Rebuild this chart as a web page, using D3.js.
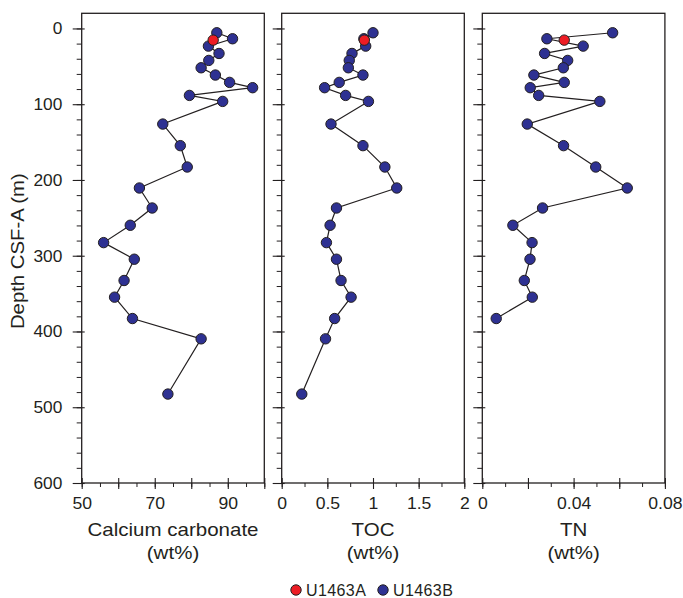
<!DOCTYPE html>
<html>
<head>
<meta charset="utf-8">
<script src="https://cdn.jsdelivr.net/npm/d3@7"></script>
<style>
  body { margin: 0; background: #fff; }
  svg text { font-family: "Liberation Sans", Arial, Helvetica, sans-serif; fill: #231f20; }
  .tick text { font-size: 16px; }
  .title { font-size: 18px; }
  .legend { font-size: 16px; letter-spacing: 0.4px; }
</style>
</head>
<body>
<div id="graf"></div>
<script>
// Site U1463B samples (depth in m CSF-A)
const depthB = [5.7, 13.6, 23.3, 33, 42.2, 51.9, 61.5, 71.2, 78.2, 88.4, 96.3, 126.2,
  154.7, 182.9, 210.6, 237, 259.8, 282.7, 304.6, 332.7, 354.7, 382.9, 409.7, 482.6]
const caco3B = [87.0, 91.3, 84.7, 87.6, 84.8, 82.7, 86.6, 90.5, 96.8, 79.5, 88.6, 72.2,
  77.0, 78.9, 65.8, 69.3, 63.3, 56.0, 64.4, 61.6, 59.0, 63.9, 82.7, 73.6]
const tocB = [1.0, 0.9, 0.92, 0.77, 0.74, 0.73, 0.89, 0.63, 0.47, 0.70, 0.95, 0.54,
  0.89, 1.13, 1.26, 0.60, 0.53, 0.49, 0.60, 0.65, 0.76, 0.58, 0.48, 0.22]
const tnB = [0.0571, 0.0283, 0.0442, 0.0273, 0.0374, 0.0355, 0.0226, 0.0359, 0.0210, 0.0247, 0.0515, 0.0197,
  0.0356, 0.0497, 0.0635, 0.0264, 0.0134, 0.0218, 0.0209, 0.0184, 0.0219, 0.0061, null, null]

// Site U1463A (single sample)
const depthA = [15.4]
const caco3A = [86.0]
const tocA = [0.905]
const tnA = [0.0359]

const depthTicks = [0, 100, 200, 300, 400, 500, 600]
const legendItems = ["U1463A", "U1463B"]

const ink = "#231f20"
const colorA = "#ed1c24"
const colorB = "#2e3192"

const W = 683, H = 598
const plot = { top: 13.3, bottom: 483, width: 182.6 }
const lefts = [81.7, 281.7, 482.3]

const svg = d3.select("#graf").append("svg").attr("width", W).attr("height", H)

const y = d3.scaleLinear().domain([-20, 600]).range([plot.top, plot.bottom])

const panels = [
  { b: caco3B, a: caco3A, domain: [50, 100], minor: d3.range(50, 101, 5), major: d3.range(50, 101, 10),
    labels: [50, 70, 90], title: "Calcium carbonate" },
  { b: tocB, a: tocA, domain: [0, 2], minor: d3.range(0, 9).map(i => i * 0.25), major: d3.range(0, 5).map(i => i * 0.5),
    labels: [0, 0.5, 1, 1.5, 2], title: "TOC" },
  { b: tnB, a: tnA, domain: [0, 0.08], minor: d3.range(0, 9).map(i => i * 0.01), major: d3.range(0, 5).map(i => i * 0.02),
    labels: [0, 0.04, 0.08], title: "TN" }
]

panels.forEach((p, i) => {
  const left = lefts[i]
  const x = d3.scaleLinear().domain(p.domain).range([left, left + plot.width])
  const g = svg.append("g")

  // x axis: minor, major (crossing), labels
  g.append("g")
    .attr("transform", `translate(0, ${plot.bottom})`)
    .style("color", ink)
    .call(d3.axisBottom(x).tickValues(p.minor).tickSize(4).tickFormat(""))
    .call(a => a.select(".domain").remove())
  g.append("g")
    .attr("transform", `translate(0, ${plot.bottom})`)
    .style("color", ink)
    .call(d3.axisBottom(x).tickValues(p.major).tickSize(6).tickFormat(""))
    .call(a => a.select(".domain").remove())
    .selectAll(".tick line").attr("y1", -5).attr("stroke-width", 1.1)
  g.append("g")
    .attr("transform", `translate(0, ${plot.bottom})`)
    .style("color", ink)
    .call(d3.axisBottom(x).tickValues(p.labels).tickSize(0).tickFormat(d3.format("")))
    .call(a => a.select(".domain").remove())
    .selectAll("text").attr("y", 26.5).attr("dy", null).attr("transform", "scale(1.1,1)")

  // y axis ticks on each panel
  g.append("g")
    .attr("transform", `translate(${left}, 0)`)
    .style("color", ink)
    .call(d3.axisLeft(y).tickValues(d3.range(0, 601, 20)).tickSize(5).tickFormat(""))
    .call(a => a.select(".domain").remove())
  const ym = g.append("g")
    .attr("transform", `translate(${left}, 0)`)
    .style("color", ink)
    .call(d3.axisLeft(y).tickValues(depthTicks).tickSize(9).tickFormat(i === 0 ? d3.format("") : ""))
    .call(a => a.select(".domain").remove())
  ym.selectAll(".tick line").attr("x1", 3).attr("stroke-width", 1.1)
  ym.selectAll("text").attr("x", -18).attr("dy", "0.34em").attr("transform", "scale(1.08,1)")

  // frame
  g.append("rect")
    .attr("x", left).attr("y", plot.top)
    .attr("width", plot.width).attr("height", plot.bottom - plot.top)
    .attr("fill", "none").attr("stroke", ink).attr("stroke-width", 1.3)

  // data
  const rows = depthB.map((d, j) => ({ depth: d, v: p.b[j] })).filter(d => d.v !== null)
  const rowsA = depthA.map((d, j) => ({ depth: d, v: p.a[j] }))

  g.append("path")
    .datum(rows)
    .attr("fill", "none")
    .attr("stroke", ink)
    .attr("stroke-width", 1.2)
    .attr("d", d3.line().x(d => x(d.v)).y(d => y(d.depth)))

  g.selectAll("circle.b").data(rows).enter().append("circle")
    .attr("class", "b")
    .attr("cx", d => x(d.v)).attr("cy", d => y(d.depth)).attr("r", 5.2)
    .attr("fill", colorB).attr("stroke", ink).attr("stroke-width", 1)

  g.selectAll("circle.a").data(rowsA).enter().append("circle")
    .attr("class", "a")
    .attr("cx", d => x(d.v)).attr("cy", d => y(d.depth)).attr("r", 5.2)
    .attr("fill", colorA).attr("stroke", ink).attr("stroke-width", 1)

  // titles
  const cx = left + plot.width / 2
  g.append("text").attr("class", "title").attr("text-anchor", "middle")
    .attr("transform", `translate(${cx}, 536) scale(1.14,1)`).text(p.title)
  g.append("text").attr("class", "title").attr("text-anchor", "middle")
    .attr("transform", `translate(${cx}, 559) scale(1.14,1)`).text("(wt%)")
})

// y axis title
svg.append("text").attr("class", "title").attr("text-anchor", "middle")
  .attr("transform", `translate(24, ${(plot.top + plot.bottom) / 2 + 3}) rotate(-90) scale(1.13,1)`)
  .text("Depth CSF-A (m)")

// legend
const legend = svg.append("g").attr("transform", "translate(296, 590)")
const lg = legend.selectAll("g").data(legendItems).enter().append("g")
  .attr("transform", (d, i) => `translate(${i * 87}, 0)`)
lg.append("circle").attr("r", 5.2)
  .attr("fill", (d, i) => (i === 0 ? colorA : colorB))
  .attr("stroke", ink).attr("stroke-width", 1)
lg.append("text").attr("class", "legend")
  .attr("x", 10).attr("y", 6)
  .text(d => d)
</script>
</body>
</html>
